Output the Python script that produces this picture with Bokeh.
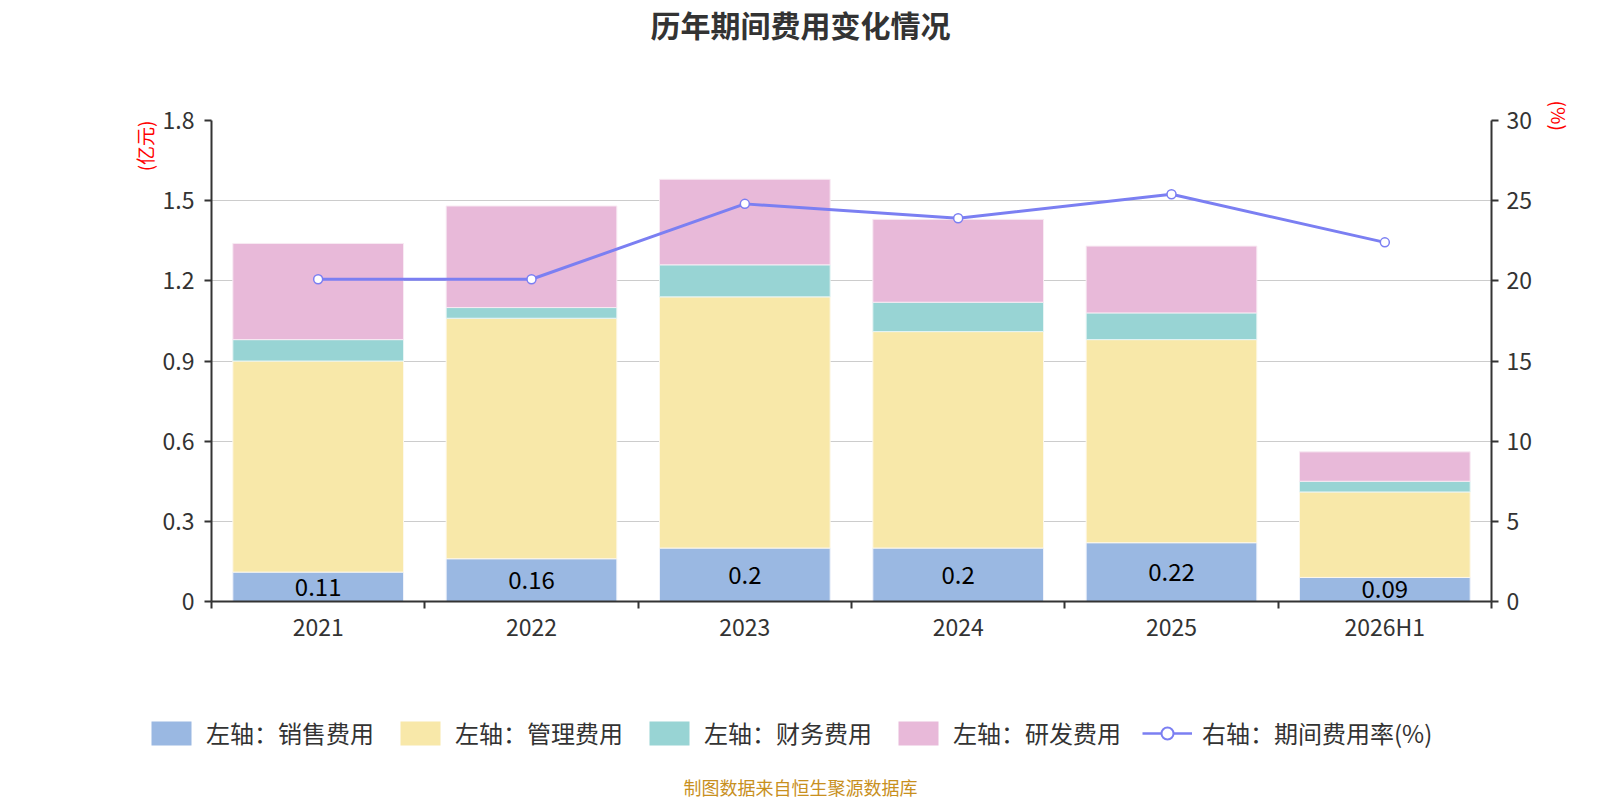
from bokeh.plotting import figure
from bokeh.models import (Range1d, LinearAxis, FixedTicker, ColumnDataSource, Label,
                          Legend, LegendItem, Title)
from bokeh.core.properties import value
from bokeh.embed import file_html
from bokeh.resources import INLINE

categories = ["2021", "2022", "2023", "2024", "2025", "2026H1"]
sales = [0.11, 0.16, 0.20, 0.20, 0.22, 0.09]
mgmt = [0.79, 0.90, 0.94, 0.81, 0.76, 0.32]
fin = [0.08, 0.04, 0.12, 0.11, 0.10, 0.04]
rnd = [0.36, 0.38, 0.32, 0.31, 0.25, 0.11]
rate = [20.1, 20.1, 24.8, 23.9, 25.4, 22.4]
left_ticks = [0, 0.3, 0.6, 0.9, 1.2, 1.5, 1.8]
right_ticks = [0, 5, 10, 15, 20, 25, 30]
sales_labels = ["0.11", "0.16", "0.2", "0.2", "0.22", "0.09"]
legend_labels = ["左轴：销售费用", "左轴：管理费用", "左轴：财务费用", "左轴：研发费用",
                 "右轴：期间费用率(%)"]

FONT = "Noto Sans CJK SC"
C_SALES = "#9ab8e2"
C_MGMT = "#f8e8a9"
C_FIN = "#98d4d4"
C_RND = "#e8b9d9"
C_LINE = "#7b7ff2"
C_TEXT = "#333333"

n = len(categories)
xc = [i + 0.5 for i in range(n)]
b1 = sales
b2 = [a + b for a, b in zip(b1, mgmt)]
b3 = [a + b for a, b in zip(b2, fin)]
b4 = [a + b for a, b in zip(b3, rnd)]

src = ColumnDataSource(dict(x=xc, b1=b1, b2=b2, b3=b3, b4=b4,
                            zero=[0] * n, rate=rate, lab=sales_labels,
                            laby=[s / 2 for s in sales]))

W = 1584
H_HEAD, H_MAIN, H_FOOT = 60, 640, 100
FL, FR = 211, W - 1493
FT = 60
FB = H_MAIN - FT - 481


def blank_fig(h):
    f = figure(width=W, height=h, output_backend="svg", toolbar_location=None,
               x_range=Range1d(0, W), y_range=Range1d(0, h),
               x_axis_type=None, y_axis_type=None, min_border=0,
               outline_line_color=None)
    f.grid.visible = False
    return f


# ---- header with title
head = blank_fig(H_HEAD)
head.add_layout(Label(x=800, y=H_HEAD - 23, x_units="screen", y_units="screen",
                      text="历年期间费用变化情况", text_font=FONT, text_font_size="30px",
                      text_font_style="bold", text_color=C_TEXT, text_align="center",
                      text_baseline="middle"))

# ---- main chart
p = figure(width=W, height=H_MAIN, output_backend="svg", toolbar_location=None,
           x_range=Range1d(0, n), y_range=Range1d(0, 1.8),
           min_border_left=FL, min_border_right=FR, min_border_top=FT,
           min_border_bottom=FB, outline_line_color=None)
p.extra_y_ranges = {"rate": Range1d(0, 30)}

bw = 0.8
p.vbar(x="x", bottom="zero", top="b1", width=bw, source=src, fill_color=C_SALES,
       line_color="#eef2fa", line_width=1)
p.vbar(x="x", bottom="b1", top="b2", width=bw, source=src, fill_color=C_MGMT,
       line_color="#fdf8ea", line_width=1)
p.vbar(x="x", bottom="b2", top="b3", width=bw, source=src, fill_color=C_FIN,
       line_color="#e6f4f4", line_width=1)
p.vbar(x="x", bottom="b3", top="b4", width=bw, source=src, fill_color=C_RND,
       line_color="#f8eaf3", line_width=1)

p.text(x="x", y="laby", text="lab", source=src, text_align="center",
       text_baseline="middle", text_font=value(FONT), text_font_size="24px",
       text_color="#000000")

p.line(x="x", y="rate", source=src, y_range_name="rate", line_color=C_LINE,
       line_width=3)
p.scatter(x="x", y="rate", source=src, y_range_name="rate", size=9,
          fill_color="white", line_color=C_LINE, line_width=1.5)

p.xaxis.ticker = FixedTicker(ticks=xc, minor_ticks=list(range(n + 1)))
p.xaxis.major_label_overrides = {x: c for x, c in zip(xc, categories)}
p.xaxis.major_tick_line_color = None
p.xaxis.minor_tick_in = 0
p.xaxis.minor_tick_out = 7
p.xaxis.minor_tick_line_color = C_TEXT
p.xaxis.minor_tick_line_width = 2
p.xaxis.axis_line_color = C_TEXT
p.xaxis.axis_line_width = 2
p.xaxis.major_label_text_font = FONT
p.xaxis.major_label_text_font_size = "23px"
p.xaxis.major_label_text_color = C_TEXT
p.xaxis.major_label_standoff = 0

la = p.yaxis[0]
la.ticker = FixedTicker(ticks=left_ticks)
la.major_label_overrides = {t: str(t) for t in left_ticks}
ra = LinearAxis(y_range_name="rate", ticker=FixedTicker(ticks=right_ticks))
p.add_layout(ra, "right")
for ax in (la, ra):
    ax.minor_tick_line_color = None
    ax.major_tick_in = 0
    ax.major_tick_out = 7
    ax.major_tick_line_width = 2
    ax.major_tick_line_color = C_TEXT
    ax.axis_line_color = C_TEXT
    ax.axis_line_width = 2
    ax.major_label_text_font = FONT
    ax.major_label_text_font_size = "23px"
    ax.major_label_text_color = C_TEXT
la.major_label_standoff = 10
ra.major_label_standoff = 8

p.xgrid.grid_line_color = None
p.ygrid.grid_line_color = "#cccccc"
p.ygrid.grid_line_width = 1.2
p.ygrid.ticker = FixedTicker(ticks=left_ticks)

p.add_layout(Title(text="(亿元)", align="right", offset=0, standoff=4,
                   text_font=FONT, text_font_size="19px", text_color="#ff0000",
                   text_font_style="normal"), "left")
p.add_layout(Title(text="(%)", align="left", offset=-20, standoff=20,
                   text_font=FONT, text_font_size="19px", text_color="#ff0000",
                   text_font_style="normal"), "right")

# ---- footer with legend and source note
foot = blank_fig(H_FOOT)
dx, dy = [-100], [-100]
d1 = foot.vbar(x=dx, top=dy, width=1, fill_color=C_SALES, line_color=None)
d2 = foot.vbar(x=dx, top=dy, width=1, fill_color=C_MGMT, line_color=None)
d3 = foot.vbar(x=dx, top=dy, width=1, fill_color=C_FIN, line_color=None)
d4 = foot.vbar(x=dx, top=dy, width=1, fill_color=C_RND, line_color=None)
d5 = foot.line(x=dx, y=dy, line_color=C_LINE, line_width=2.5)
d6 = foot.scatter(x=dx, y=dy, size=22, fill_color="white", line_color=C_LINE,
                  line_width=2)
legend = Legend(items=[
    LegendItem(label=legend_labels[0], renderers=[d1]),
    LegendItem(label=legend_labels[1], renderers=[d2]),
    LegendItem(label=legend_labels[2], renderers=[d3]),
    LegendItem(label=legend_labels[3], renderers=[d4]),
    LegendItem(label=legend_labels[4], renderers=[d5, d6]),
], orientation="horizontal", location=(146, H_FOOT - 50))
legend.label_text_font = FONT
legend.label_text_font_size = "24px"
legend.label_text_color = C_TEXT
legend.glyph_width = 50
legend.glyph_height = 30
legend.spacing = 21
legend.label_standoff = 10
legend.border_line_color = None
legend.background_fill_alpha = 0
legend.margin = 0
legend.padding = 0
foot.add_layout(legend, "center")
foot.add_layout(Label(x=800, y=14, x_units="screen", y_units="screen",
                      text="制图数据来自恒生聚源数据库", text_font=FONT,
                      text_font_size="18px", text_color="#c8901e",
                      text_align="center", text_baseline="middle"))

open("out.html", "w").write(file_html([head, p, foot], INLINE))
